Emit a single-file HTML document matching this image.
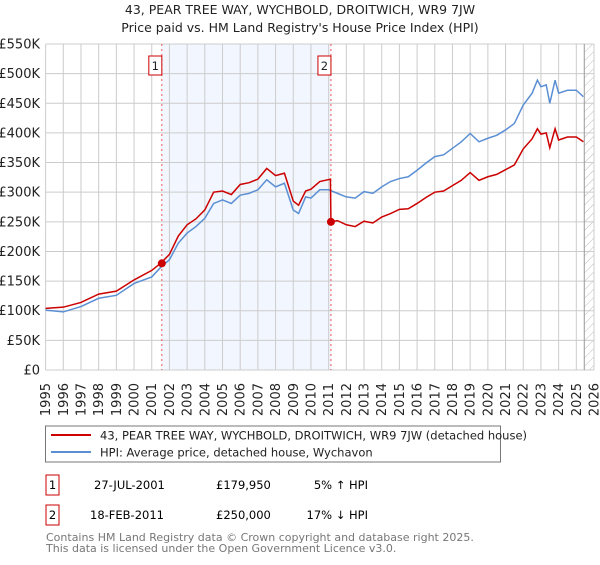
<!DOCTYPE html>
<html><head><meta charset="utf-8"><style>
body{margin:0;background:#fff;font-family:"Liberation Sans","DejaVu Sans",sans-serif}
svg text{font-family:"DejaVu Sans","Liberation Sans",sans-serif}
</style></head><body>
<svg id="c" width="600" height="560" xmlns="http://www.w3.org/2000/svg">
<text x="300" y="14" text-anchor="middle" font-size="12.5" fill="#222">43, PEAR TREE WAY, WYCHBOLD, DROITWICH, WR9 7JW</text>
<text x="300" y="32" text-anchor="middle" font-size="12.5" fill="#222">Price paid vs. HM Land Registry's House Price Index (HPI)</text>
<g id="plot"></g>
<rect x="45.5" y="426" width="455" height="36" fill="#fff" stroke="#777"/>
<line x1="51" y1="435" x2="91" y2="435" stroke="#cc0000" stroke-width="2"/>
<text x="100" y="439.5" font-size="11.5" fill="#222">43, PEAR TREE WAY, WYCHBOLD, DROITWICH, WR9 7JW (detached house)</text>
<line x1="51" y1="452" x2="91" y2="452" stroke="#5b8fd4" stroke-width="2"/>
<text x="100" y="456.5" font-size="11.5" fill="#222">HPI: Average price, detached house, Wychavon</text>
<g>
<rect x="46" y="475" width="13" height="20" fill="#fff" stroke="#cc0000"/>
<text x="52.5" y="489" text-anchor="middle" font-size="11.5">1</text>
<text x="94" y="489" font-size="11.5">27-JUL-2001</text>
<text x="216" y="489" font-size="11.5">£179,950</text>
<text x="368" y="489" text-anchor="end" font-size="11.5">5% ↑ HPI</text>
</g>
<g>
<rect x="46" y="505" width="13" height="20" fill="#fff" stroke="#cc0000"/>
<text x="52.5" y="519" text-anchor="middle" font-size="11.5">2</text>
<text x="90" y="519" font-size="11.5">18-FEB-2011</text>
<text x="216" y="519" font-size="11.5">£250,000</text>
<text x="368" y="519" text-anchor="end" font-size="11.5">17% ↓ HPI</text>
</g>
<text x="46" y="541" font-size="11" fill="#777">Contains HM Land Registry data © Crown copyright and database right 2025.</text>
<text x="46" y="552" font-size="11" fill="#777">This data is licensed under the Open Government Licence v3.0.</text>
</svg>
<script>
const hpiDates=[1995,1996,1997,1998,1999,2000,2001,2001.5,2002,2002.5,2003,2003.5,2004,2004.5,2005,2005.5,2006,2006.5,2007,2007.5,2008,2008.5,2009,2009.3,2009.7,2010,2010.5,2011,2011.5,2012,2012.5,2013,2013.5,2014,2014.5,2015,2015.5,2016,2016.5,2017,2017.5,2018,2018.5,2019,2019.5,2020,2020.5,2021,2021.5,2022,2022.5,2022.8,2023,2023.3,2023.5,2023.8,2024,2024.5,2025,2025.4];
const hpiValues=[101,98,107,121,126,146,157,173,186,214,231,242,256,281,287,281,295,298,304,321,309,315,270,264,292,290,304,304,298,292,290,301,298,309,318,323,326,337,349,360,363,374,385,399,385,391,396,405,416,447,467,489,478,481,450,489,467,472,472,461];
const propDates=[1995,1996,1997,1998,1999,2000,2001,2001.5,2002,2002.5,2003,2003.5,2004,2004.5,2005,2005.5,2006,2006.5,2007,2007.5,2008,2008.5,2009,2009.3,2009.7,2010,2010.5,2011.1,2011.13,2011.5,2012,2012.5,2013,2013.5,2014,2014.5,2015,2015.5,2016,2016.5,2017,2017.5,2018,2018.5,2019,2019.5,2020,2020.5,2021,2021.5,2022,2022.5,2022.8,2023,2023.3,2023.5,2023.8,2024,2024.5,2025,2025.4];
const propValues=[104,106,114,128,133,152,168,180,195,226,245,255,270,300,302,296,313,316,322,340,328,332,285,278,302,305,318,322,250,252,245,242,251,248,258,264,271,272,281,291,300,302,311,320,333,320,326,330,338,346,373,390,407,398,400,375,407,388,393,393,385];
const saleDates=[2001.57,2011.13];
const salePrices=[179.95,250];
const yTicks=[0,50,100,150,200,250,300,350,400,450,500,550];
const yTickLabels=["£0","£50K","£100K","£150K","£200K","£250K","£300K","£350K","£400K","£450K","£500K","£550K"];
const xYears=[1995,1996,1997,1998,1999,2000,2001,2002,2003,2004,2005,2006,2007,2008,2009,2010,2011,2012,2013,2014,2015,2016,2017,2018,2019,2020,2021,2022,2023,2024,2025,2026];

const L=45.6,R=594,T=44,B=370;
const X=d=>L+(d-1995)*(R-L)/31;
const Y=v=>B-v*(B-T)/550;
const NS="http://www.w3.org/2000/svg";
const g=document.getElementById('plot');
function mk(t,a){const e=document.createElementNS(NS,t);for(const k in a)e.setAttribute(k,a[k]);g.appendChild(e);return e;}
let e;
e=mk('rect',{x:X(saleDates[0]),y:T,width:X(saleDates[1])-X(saleDates[0]),height:B-T,fill:'#eef3fd',opacity:0.75});


const defs=document.createElementNS(NS,'defs');defs.innerHTML='<pattern id="h" width="6" height="6" patternUnits="userSpaceOnUse" patternTransform="rotate(45)"><line x1="0" y1="0" x2="0" y2="6" stroke="#bbb" stroke-width="1"/></pattern>';g.appendChild(defs);
e=mk('rect',{x:X(2025.45),y:T,width:R-X(2025.45),height:B-T,fill:'url(#h)'});


yTicks.forEach((v,i)=>{
 e=mk('line',{x1:L,x2:R,y1:Y(v),y2:Y(v),stroke:'#ccc','stroke-width':1});
 
 
 e=mk('text',{x:40,y:Y(v)+4.5,'text-anchor':'end','font-size':13,fill:'#222'});e.textContent=yTickLabels[i];
 
 
});
xYears.forEach(yr=>{
 e=mk('line',{x1:X(yr),x2:X(yr),y1:T,y2:B,stroke:'#ccc','stroke-width':1});
 
 
 e=mk('text',{x:0,y:0,'text-anchor':'end','font-size':13,fill:'#222',transform:`translate(${X(yr)+4.5},383) rotate(-90)`});e.textContent=yr;
 
 
});
e=mk('line',{x1:X(2025.45),x2:X(2025.45),y1:T,y2:B,stroke:'#999','stroke-width':1});


saleDates.forEach((d,i)=>{
 e=mk('line',{x1:X(d),x2:X(d),y1:T,y2:B,stroke:'#ee5555','stroke-width':1,'stroke-dasharray':'2,3'});
 
 
 e=mk('rect',{x:X(d)-13,y:56,width:13,height:19,fill:'#fff',stroke:'#cc0000'});
 
 
 e=mk('text',{x:X(d)-6.5,y:70,'text-anchor':'middle','font-size':11.5,fill:'#222'});e.textContent=i+1;
 
 
});
e=mk('polyline',{points:hpiDates.map((d,i)=>X(d)+','+Y(hpiValues[i])).join(' '),fill:'none',stroke:'#5b8fd4','stroke-width':1.5});


e=mk('polyline',{points:propDates.map((d,i)=>X(d)+','+Y(propValues[i])).join(' '),fill:'none',stroke:'#cc0000','stroke-width':1.5});


saleDates.forEach((d,i)=>{
 e=mk('circle',{cx:X(d),cy:Y(salePrices[i]),r:4,fill:'#cc0000'});
 
 
});
</script>
</body></html>
